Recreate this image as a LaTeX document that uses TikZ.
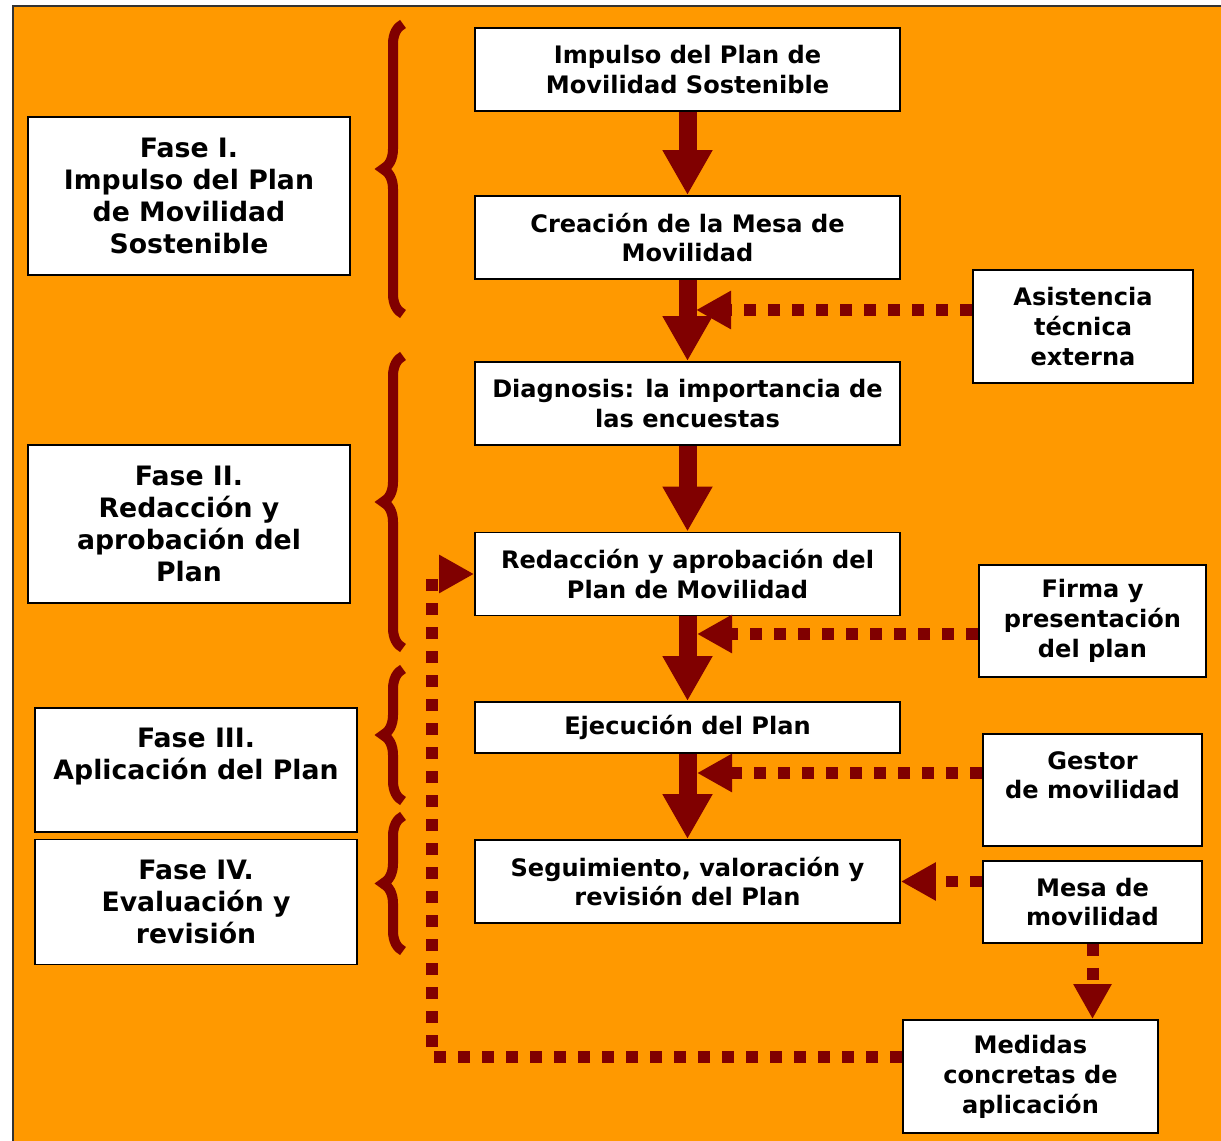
\documentclass[tikz,border=0pt]{standalone}
\usepackage{fontspec}
\setmainfont{DejaVu Sans}
\usetikzlibrary{arrows.meta,decorations.pathreplacing}
\definecolor{fondo}{RGB}{255,153,0}
\definecolor{granate}{RGB}{128,0,0}

\begin{document}
\begin{tikzpicture}[x=0.02cm,y=-0.02cm]
    \tikzstyle{caja}=[draw=black, line width=1.1pt, fill=white, align=center, inner sep=0pt,
        font=\bfseries\fontsize{13.7}{17}\selectfont]
    \tikzstyle{fase}=[caja, minimum width=6.44cm, font=\bfseries\fontsize{15.2}{18.2}\selectfont]
    \tikzstyle{paso}=[caja, minimum width=8.5cm, minimum height=1.66cm]
    \tikzstyle{lado}=[caja, minimum width=4.38cm, minimum height=2.24cm]
    \tikzstyle{flecha}=[granate, line width=0.36cm, -{Triangle[width=0.94cm,length=0.9cm]}]
    \tikzstyle{punteada}=[granate, line width=0.24cm, dash pattern=on 0.24cm off 0.24cm,
        -{Triangle[width=0.72cm,length=0.7cm]}]
    \tikzstyle{llave}=[granate, line width=0.2cm, decorate,
        decoration={brace, amplitude=0.4cm}]
    \useasboundingbox (0,0) rectangle (1221,1141);
    % fondo naranja
    \fill[fondo] (13,6) rectangle (1221,1141);
    \draw[black!80, line width=1.2pt] (13,1141) -- (13,6) -- (1221,6);

    % fases
    \node[fase, minimum height=3.16cm] (f1) at (189,196) {Fase I.\\Impulso del Plan\\de Movilidad\\Sostenible};
    \node[fase, minimum height=3.16cm] (f2) at (189,524) {Fase II.\\Redacción y\\aprobación del\\Plan};
    \node[fase, minimum height=2.48cm] (f3) at (196,770) {Fase III.\\Aplicación del Plan\\~};
    \node[fase, minimum height=2.5cm] (f4) at (196,902) {Fase IV.\\Evaluación y\\revisión};

    % llaves
    \draw[llave] (403,314) -- (403,24);
    \draw[llave] (403,648) -- (403,356);
    \draw[llave] (403,801) -- (403,669);
    \draw[llave] (403,951) -- (403,816);

    % pasos
    \node[paso] (b1) at (687.5,69.5) {Impulso del Plan de\\Movilidad Sostenible};
    \node[paso] (b2) at (687.5,237.5) {Creación de la Mesa de\\Movilidad};
    \node[paso] (b3) at (687.5,403.5) {Diagnosis: la importancia de\\las encuestas};
    \node[paso] (b4) at (687.5,574) {Redacción y aprobación del\\Plan de Movilidad};
    \node[paso, minimum height=1.02cm] (b5) at (687.5,727.5) {Ejecución del Plan};
    \node[paso] (b6) at (687.5,881.5) {Seguimiento, valoración y\\revisión del Plan};

    % apoyos
    \node[lado, minimum width=4.4cm, minimum height=2.26cm] (asis) at (1083,326.5) {Asistencia\\técnica\\externa};
    \node[lado, minimum width=4.54cm] (firma) at (1092.5,621) {Firma y\\presentación\\del plan};
    \node[lado] (gestor) at (1092.5,790) {Gestor\\de movilidad\\~};
    \node[lado, minimum height=1.64cm] (mesa) at (1092.5,902) {Mesa de\\movilidad};
    \node[lado, minimum width=5.1cm, minimum height=2.26cm] (medidas) at (1030.5,1076.5) {Medidas\\concretas de\\aplicación};

    \draw[flecha] (b1.south) -- (b2.north);
    \draw[flecha] (b2.south) -- (b3.north);
    \draw[flecha] (b3.south) -- (b4.north);
    \draw[flecha] (b4.south) -- (b5.north);
    \draw[flecha] (b5.south) -- (b6.north);

    \coordinate (e2) at (696,310);
    \coordinate (e4) at (697,634);
    \coordinate (e5) at (697,773);
    \coordinate (vuelta) at (432,1057);
    \draw[punteada] (asis.west |- e2) -- (e2);
    \draw[punteada] (firma.west |- e4) -- (e4);
    \draw[punteada] (gestor.west |- e5) -- (e5);
    \draw[punteada] (mesa.west |- b6.east) -- (b6.east);
    \draw[punteada] (mesa.south) -- (mesa.south |- medidas.north);
    \draw[punteada] (medidas.west |- vuelta) -- (vuelta) |- (b4.west);
\end{tikzpicture}
\end{document}
